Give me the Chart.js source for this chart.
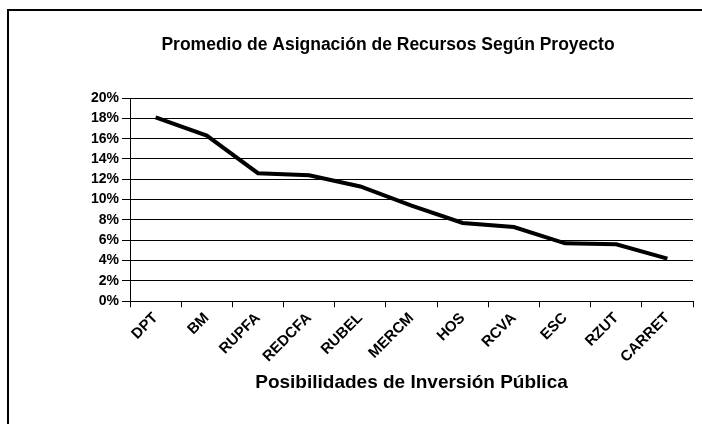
<!DOCTYPE html>
<html>
<head>
<meta charset="utf-8">
<script src="https://cdn.jsdelivr.net/npm/chart.js@4"></script>
<style>
  html, body { margin: 0; padding: 0; background: #fff; }
  #wrap { position: relative; width: 702px; height: 424px; overflow: hidden; }
  #frame { position: absolute; left: 7px; top: 9px; width: 720px; height: 430px;
           border-left: 2px solid #000; border-top: 2px solid #000; box-sizing: border-box; pointer-events: none; }
  canvas { position: absolute; left: 0; top: 0; }
</style>
</head>
<body>
<div id="wrap">
  <canvas id="c" width="702" height="424"></canvas>
  <div id="frame"></div>
</div>
<script>
const categories = ['DPT', 'BM', 'RUPFA', 'REDCFA', 'RUBEL', 'MERCM', 'HOS', 'RCVA', 'ESC', 'RZUT', 'CARRET'];
const asignacion = [0.181, 0.163, 0.126, 0.124, 0.113, 0.094, 0.077, 0.073, 0.057, 0.056, 0.042];
const yTicks = [0, 0.02, 0.04, 0.06, 0.08, 0.10, 0.12, 0.14, 0.16, 0.18, 0.20];
const titleText = 'Promedio de Asignación de Recursos Según Proyecto';
const xTitleText = 'Posibilidades de Inversión Pública';

const FONT = '"Liberation Sans", Arial, sans-serif';

new Chart(document.getElementById('c'), {
  type: 'line',
  data: {
    labels: categories,
    datasets: [{
      data: asignacion,
      borderColor: '#000',
      borderWidth: 4,
      pointRadius: 0,
      tension: 0,
      fill: false
    }]
  },
  options: {
    responsive: false,
    animation: false,
    layout: { padding: { left: 83, right: 9, top: 35, bottom: 30 } },
    plugins: {
      legend: { display: false },
      tooltip: { enabled: false },
      title: {
        display: true,
        text: titleText,
        color: '#000',
        font: { family: FONT, size: 17.5, weight: 'bold' },
        padding: { top: 0, bottom: 42 }
      }
    },
    scales: {
      x: {
        offset: true,
        grid: { drawOnChartArea: false, drawTicks: true, tickLength: 6, color: '#000', offset: true },
        border: { color: '#000', width: 1 },
        ticks: {
          color: '#000',
          font: { family: FONT, size: 15, weight: 'bold' },
          maxRotation: 45, minRotation: 45,
          autoSkip: false,
          padding: 2
        },
        title: {
          display: true,
          text: xTitleText,
          color: '#000',
          font: { family: FONT, size: 19, weight: 'bold' },
          padding: { top: 3, bottom: 0 }
        }
      },
      y: {
        min: 0, max: 0.2,
        afterFit: (s) => { s.width = 47; },
        afterBuildTicks: (s) => { s.ticks = yTicks.map(v => ({ value: v })); },
        grid: { color: '#000', lineWidth: 1, drawTicks: true, tickLength: 8 },
        border: { color: '#000', width: 1 },
        ticks: {
          color: '#000',
          font: { family: FONT, size: 14, weight: 'bold' },
          padding: 3,
          callback: (v) => Math.round(v * 100) + '%'
        }
      }
    }
  }
});
</script>
</body>
</html>
